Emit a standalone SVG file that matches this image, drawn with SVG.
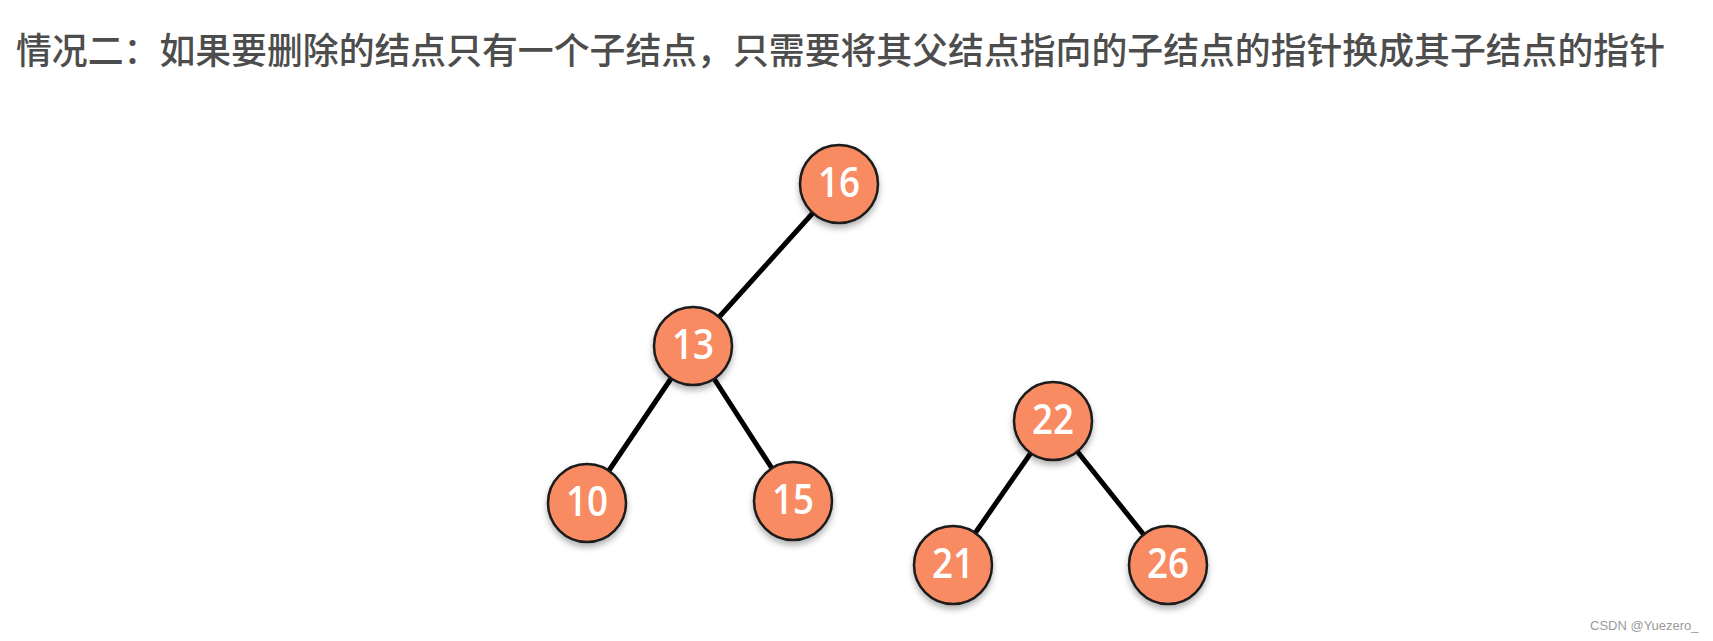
<svg xmlns="http://www.w3.org/2000/svg" width="1713" height="641" viewBox="0 0 1713 641">
<style>
.t{font-family:"Noto Sans CJK SC","Noto Sans",sans-serif;font-size:36.5px;font-weight:500;fill:#4d4d4d}
.n circle{fill:#F98B64;stroke:#1a1a1a;stroke-width:2.5}
.n text{font-family:"Open Sans","Liberation Sans",sans-serif;font-size:41px;font-weight:600;fill:#fff;text-anchor:middle}
.e line{stroke:#000;stroke-width:5}
.w{font-family:"Liberation Sans",Arial,sans-serif;font-size:13px;fill:#9a9a9a}
</style>
<defs>
<filter id="sh" x="-30%" y="-30%" width="160%" height="170%">
<feDropShadow dx="0" dy="4" stdDeviation="3" flood-color="#000" flood-opacity="0.3"/>
</filter>
</defs>
<rect width="1713" height="641" fill="#fff"/>
<text class="t" x="16" y="64" textLength="1649" lengthAdjust="spacingAndGlyphs">情况二：如果要删除的结点只有一个子结点，只需要将其父结点指向的子结点的指针换成其子结点的指针</text>
<g id="edges" class="e">
<line x1="839" y1="184" x2="693" y2="346"/>
<line x1="693" y1="346" x2="587" y2="503"/>
<line x1="693" y1="346" x2="793" y2="501"/>
<line x1="1053" y1="421" x2="953" y2="565"/>
<line x1="1053" y1="421" x2="1168" y2="565"/>
</g>
<g id="n16" class="n"><circle cx="839" cy="184" r="39" filter="url(#sh)"/><text x="839" y="197" textLength="42" lengthAdjust="spacingAndGlyphs">16</text></g>
<g id="n13" class="n"><circle cx="693" cy="346" r="39" filter="url(#sh)"/><text x="693" y="359" textLength="42" lengthAdjust="spacingAndGlyphs">13</text></g>
<g id="n10" class="n"><circle cx="587" cy="503" r="39" filter="url(#sh)"/><text x="587" y="516" textLength="42" lengthAdjust="spacingAndGlyphs">10</text></g>
<g id="n15" class="n"><circle cx="793" cy="501" r="39" filter="url(#sh)"/><text x="793" y="514" textLength="42" lengthAdjust="spacingAndGlyphs">15</text></g>
<g id="n22" class="n"><circle cx="1053" cy="421" r="39" filter="url(#sh)"/><text x="1053" y="434" textLength="42" lengthAdjust="spacingAndGlyphs">22</text></g>
<g id="n21" class="n"><circle cx="953" cy="565" r="39" filter="url(#sh)"/><text x="953" y="578" textLength="42" lengthAdjust="spacingAndGlyphs">21</text></g>
<g id="n26" class="n"><circle cx="1168" cy="565" r="39" filter="url(#sh)"/><text x="1168" y="578" textLength="42" lengthAdjust="spacingAndGlyphs">26</text></g>
<text class="w" x="1590" y="630">CSDN @Yuezero_</text>
</svg>
